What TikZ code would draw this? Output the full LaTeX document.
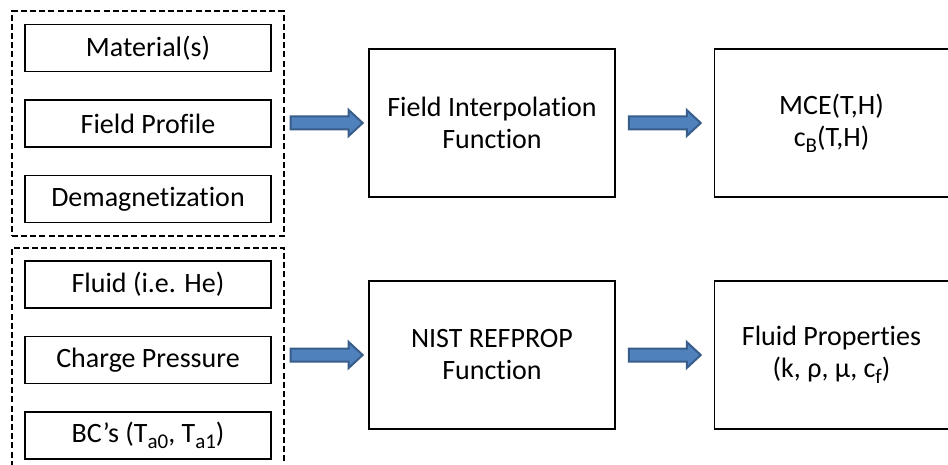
\documentclass[tikz,border=0pt]{standalone}
\usepackage{fontspec}
\setmainfont[Ligatures=NoCommon]{Carlito}
\usepackage{tikz}
\usetikzlibrary{positioning}
\usetikzlibrary{calc,fit}
\definecolor{arrowfill}{RGB}{79,129,189}
\definecolor{arrowline}{RGB}{56,93,138}
\newcommand{\lowsub}[1]{\raisebox{-0.45ex}{\fontsize{10.5}{12}\selectfont #1}}
\tikzstyle{fatarrow} = [draw=arrowline, fill=arrowfill, line width=1pt, line join=miter]
% block arrow centred in the gap between two nodes, level with the target
\newcommand{\fatarrow}[2]{%
	\draw[fatarrow] ($($(#1.east |- #2.west)!0.5!(#2.west)$)+(-18pt,3.25pt)$) -- ++(29pt,0) -- ++(0,3.25pt)
		-- ++(7pt,-6.5pt) -- ++(-7pt,-6.5pt) -- ++(0,3.25pt) -- ++(-29pt,0) -- cycle;}

\begin{document}
\begin{tikzpicture}[x=0.5pt, y=-0.5pt,
	font=\fontsize{14}{16}\selectfont,
	inbox/.style={draw, line width=0.75pt, minimum width=123pt, minimum height=23.5pt, inner sep=0pt},
	funcbox/.style={draw, line width=0.75pt, minimum width=123pt, minimum height=74pt, align=center},
	group/.style={draw, dash pattern=on 3pt off 1.6pt, line width=0.9pt, inner sep=6.25pt}]
	\useasboundingbox (0,0) rectangle (948,465);
	%% Inputs
	\node [inbox] (mat) at (148,48) {Material(s)};
	\node [inbox, below=13.5pt of mat] (fp) {Field Profile};
	\node [inbox, below=13.5pt of fp] (dm) {Demagnetization};
	\node [inbox, below=18.5pt of dm] (fl) {Fluid (i.e. He)};
	\node [inbox, below=13.5pt of fl] (cp) {Charge Pressure};
	\node [inbox, below=13.5pt of cp] (bc) {BC’s (T\lowsub{a0}, T\lowsub{a1})};
	\coordinate (cut) at (148,480);
	\node [group, fit=(mat)(dm)] (magnet) {};
	\node [group, fit=(fl)(bc)(cut)] (fluid) {};
	%% Functions
	\node [funcbox] (fi) at (492,123) {Field Interpolation\\Function};
	\node [funcbox, minimum width=117pt, right=49pt of fi] (mce) {MCE(T,H)\\c\lowsub{B}(T,H)};
	\node [funcbox] (np) at (492,355) {NIST REFPROP\\Function};
	\node [funcbox, minimum width=117pt, right=49pt of np] (prop) {Fluid Properties\\(k, ρ, μ, c\lowsub{f})};
	%% Arrows
	\fatarrow{magnet}{fi}
	\fatarrow{fi}{mce}
	\fatarrow{fluid}{np}
	\fatarrow{np}{prop}
\end{tikzpicture}
\end{document}
